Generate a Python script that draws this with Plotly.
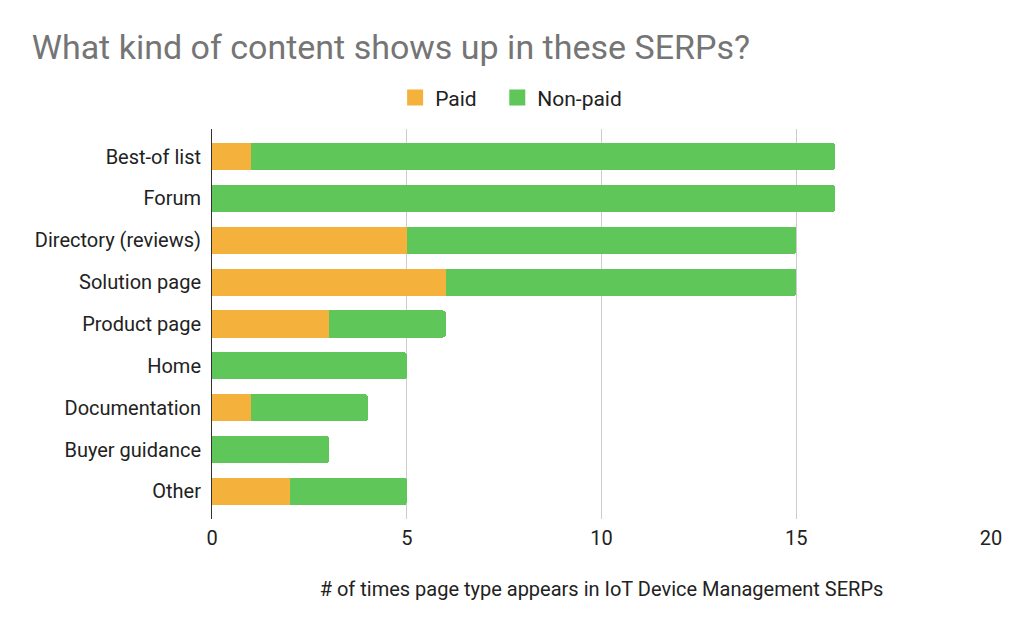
import plotly.graph_objects as go

categories = ["Best-of list", "Forum", "Directory (reviews)", "Solution page", "Product page",
              "Home", "Documentation", "Buyer guidance", "Other"]
paid = [1, 0, 5, 6, 3, 0, 1, 0, 2]
non_paid = [15, 16, 10, 9, 3, 5, 3, 3, 3]
x_ticks = [0, 5, 10, 15, 20]

FONT = "Roboto, Arial, sans-serif"
PAID_COLOR = "#F4B13C"
NONPAID_COLOR = "#5FC65A"

fig = go.Figure()
fig.add_trace(go.Bar(y=categories, x=paid, name="Paid", orientation="h", showlegend=False,
                     marker=dict(color=PAID_COLOR, line=dict(width=0))))
fig.add_trace(go.Bar(y=categories, x=non_paid, name="Non-paid", orientation="h", showlegend=False,
                     marker=dict(color=NONPAID_COLOR, line=dict(width=0))))
# legend entries with larger square swatches (NBSPs add the spacing between items)
for name, col in [("Paid\u00a0\u00a0\u00a0", PAID_COLOR), ("Non-paid", NONPAID_COLOR)]:
    fig.add_trace(go.Scatter(x=[None], y=[None], mode="markers", name=name,
                             marker=dict(symbol="square", size=19, color=col)))

fig.update_layout(
    width=1024, height=633,
    barmode="stack", bargap=0.35, barcornerradius=3,
    paper_bgcolor="white", plot_bgcolor="white",
    margin=dict(l=212, r=33, t=129, b=114, autoexpand=False),
    font=dict(family=FONT, size=20, color="#222222"),
    title=dict(text="What kind of content shows up in these SERPs?", x=0.031, xanchor="left",
               y=0.925, yanchor="middle", font=dict(family=FONT, size=34, color="#757575")),
    legend=dict(orientation="h", x=0.384, xanchor="center", y=1.08, yanchor="middle",
                font=dict(family=FONT, size=21, color="#222222"), traceorder="normal",
                itemwidth=30),
    xaxis=dict(range=[0, 20], tickvals=x_ticks, showgrid=True, gridcolor="#CCCCCC", gridwidth=1,
               zeroline=False, showline=False, ticks="", ticklabelstandoff=5,
               tickfont=dict(size=20),
               title=dict(text="# of times page type appears in IoT Device Management SERPs",
                          standoff=32, font=dict(size=20, color="#222222"))),
    yaxis=dict(categoryorder="array", categoryarray=categories, range=[8.66, -0.66],
               showline=True, linecolor="#333333", linewidth=1, showgrid=False, zeroline=False,
               ticks="", ticklabelstandoff=6, tickfont=dict(size=20)),
)

fig.write_html("out.html")
